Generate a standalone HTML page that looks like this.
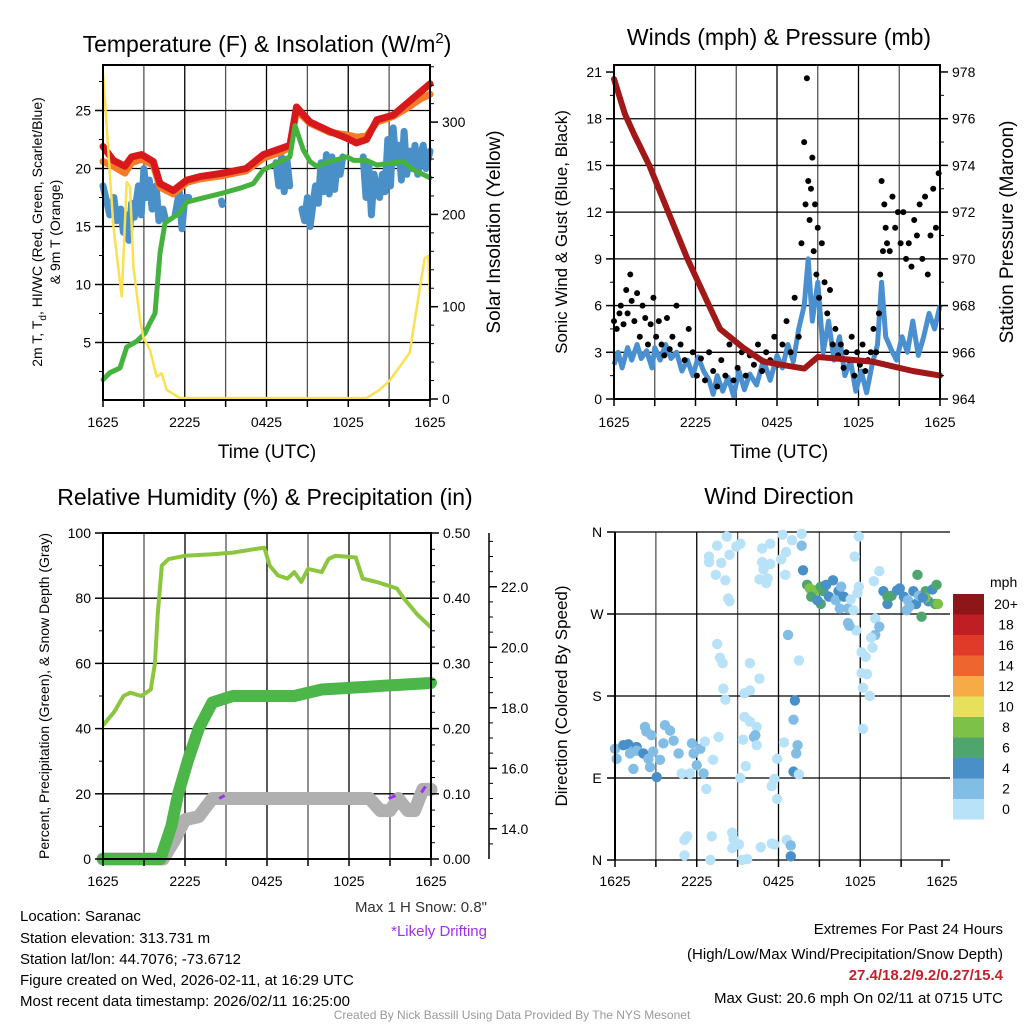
<!DOCTYPE html>
<html><head><meta charset="utf-8"><style>
body{margin:0;background:#fff;}
svg{display:block;font-family:"Liberation Sans",sans-serif;}
</style></head><body>
<svg id="s" width="1024" height="1024" viewBox="0 0 1024 1024" xmlns="http://www.w3.org/2000/svg">
<g id="g1"></g>
<g id="g2"></g>
<g id="g3"></g>
<g id="g4"></g>
<g id="txt">
<text x="267" y="52" font-size="23" text-anchor="middle">Temperature (F) &amp; Insolation (W/m<tspan dy="-9" font-size="15">2</tspan><tspan dy="9">)</tspan></text>
<text x="779" y="45" font-size="23" text-anchor="middle">Winds (mph) &amp; Pressure (mb)</text>
<text x="265" y="505" font-size="23" text-anchor="middle">Relative Humidity (%) &amp; Precipitation (in)</text>
<text x="779" y="504" font-size="23" text-anchor="middle">Wind Direction</text>
<text x="267" y="458" font-size="19" text-anchor="middle">Time (UTC)</text>
<text x="779" y="458" font-size="19" text-anchor="middle">Time (UTC)</text>
<text transform="translate(42,232) rotate(-90)" font-size="14" text-anchor="middle">2m T, T<tspan dy="4" font-size="10">d</tspan><tspan dy="-4">, HI/WC (Red, Green, Scarlet/Blue)</tspan></text>
<text transform="translate(60,232) rotate(-90)" font-size="14" text-anchor="middle">&amp; 9m T (Orange)</text>
<text transform="translate(500,232) rotate(-90)" font-size="19" text-anchor="middle">Solar Insolation (Yellow)</text>
<text transform="translate(567,232) rotate(-90)" font-size="17" text-anchor="middle">Sonic Wind &amp; Gust (Blue, Black)</text>
<text transform="translate(1013,232) rotate(-90)" font-size="19" text-anchor="middle">Station Pressure (Maroon)</text>
<text transform="translate(49,696) rotate(-90)" font-size="14" text-anchor="middle">Percent, Precipitation (Green), &amp; Snow Depth (Gray)</text>
<text transform="translate(567,696) rotate(-90)" font-size="17" text-anchor="middle">Direction (Colored By Speed)</text>
<text x="487" y="912" font-size="15" text-anchor="end" fill="#333">Max 1 H Snow: 0.8"</text>
<text x="487" y="936" font-size="15" text-anchor="end" fill="#a030f0">*Likely Drifting</text>
<g font-size="15">
<text x="20" y="921">Location: Saranac</text>
<text x="20" y="943">Station elevation: 313.731 m</text>
<text x="20" y="964">Station lat/lon: 44.7076; -73.6712</text>
<text x="20" y="985">Figure created on Wed, 2026-02-11, at 16:29 UTC</text>
<text x="20" y="1006">Most recent data timestamp: 2026/02/11 16:25:00</text>
</g>
<g font-size="15" text-anchor="end">
<text x="1003" y="934">Extremes For Past 24 Hours</text>
<text x="1003" y="959">(High/Low/Max Wind/Precipitation/Snow Depth)</text>
<text x="1003" y="980" fill="#c8202a" font-weight="bold">27.4/18.2/9.2/0.27/15.4</text>
<text x="1003" y="1003">Max Gust: 20.6 mph On 02/11 at 0715 UTC</text>
</g>
<text x="512" y="1019" font-size="12" fill="#999" text-anchor="middle">Created By Nick Bassill Using Data Provided By The NYS Mesonet</text>
</g>
</svg>
<script>
// ---------- Panel 1 data ----------
const xTickLabels = ["1625","2225","0425","1025","1625"];
const tempHours = [0,0.76,1.61,2.1,2.84,3.69,4.18,5.16,6.14,7.12,8.83,10.5,11.77,12.99,13.72,14.2,15.2,16.66,17.9,18.6,19.35,20.1,21.3,22.3,23.3,24];
const tempRed = [21.9,20.7,20.2,21.0,21.2,20.6,18.7,18.1,19.0,19.3,19.6,20.0,21.2,21.7,22.0,25.3,24.0,23.2,22.6,22.2,22.5,24.2,24.6,25.6,26.6,27.3];
const temp9m = [20.6,20.2,19.6,20.5,20.8,20.3,18.4,17.8,18.8,19.1,19.4,19.8,20.9,21.4,21.8,25.0,23.9,23.1,22.9,22.7,22.8,24.0,24.5,25.2,26.0,26.4];
const dewHours = [0,0.51,1.25,1.74,2.47,3.08,3.45,3.82,4.18,4.55,5.65,6.14,7.12,8.83,10.05,11.03,11.77,12.5,13.72,14.09,14.7,15.19,15.68,16.66,17.9,18.4,19.35,20.1,21.3,22.04,22.77,24];
const dewVals = [1.8,2.4,2.8,4.6,5.1,5.8,6.7,7.5,12.7,15.3,16.2,17.1,17.4,17.9,18.3,18.7,19.9,20.3,21.0,23.7,21.6,20.6,20.2,20.6,21.0,20.7,20.7,20.3,20.5,20.6,19.9,19.2];
const wcHours = [0,0.3,0.5,0.8,1.0,1.3,1.5,1.7,1.9,2.1,2.3,2.6,2.8,3.0,3.2,3.4,3.6,3.9,4.1,null,4.4,4.6,null,5.3,5.6,5.8,6.0,6.3,null,8.7,8.75,null,12.7,12.9,13.1,13.3,13.5,13.7,null,14.6,14.8,15.0,15.2,15.4,15.6,15.8,16.0,16.2,16.4,16.6,16.8,17.0,17.2,17.4,17.6,null,19.1,19.3,19.5,19.7,19.9,20.1,20.3,20.5,20.7,20.9,21.1,21.3,21.5,21.7,21.9,22.1,22.3,22.5,22.7,22.9,23.1,23.3,23.5,23.7,24];
const wcVals = [18.5,17,16,17.5,15.5,16.5,14.5,16,13.8,17,15.8,18.5,16,20,17.5,19,16.5,18.5,15.5,null,16.5,15.5,null,16,18,14.8,17.5,17.5,null,17.2,16.9,null,20.5,18.5,21.0,18.0,20.8,18.5,null,16.5,15.5,17.5,15.0,16.8,18.5,17.0,20.5,18.0,21.2,17.8,21.0,18.2,20.5,19.5,21.0,null,21.0,17.5,20.5,16.0,19.5,18.0,17.5,19.5,18.0,22.5,18.5,23.5,20.5,22.0,19.0,23.2,19.5,21.5,20.0,22.0,19.5,21.0,22.0,20.0,21.5];
const solHours = [0,0.27,0.76,1.37,1.74,1.98,2.23,2.72,2.96,3.45,3.94,4.31,4.67,5.65,19.35,20.3,21.05,22.5,23.27,23.6,23.87,24];
const solVals = [353,295,187,111,235,230,143,85,67,53,24,28,10,1,1,10,20,50,122,152,155,111];
// ---------- Panel 2 data ----------
const presHours = [0,0.8,1.5,2.6,4,5.4,7,7.8,9.5,11,13,14,15,17,19,20.5,22,24];
const presVals = [977.7,976.2,975.3,974,972,970,968,967,966.2,965.6,965.4,965.3,965.8,965.7,965.6,965.4,965.2,965.0];
const windHours = [0,0.3,0.6,1,1.3,1.7,2,2.4,2.8,3,3.4,3.8,4.2,4.6,5,5.4,5.8,6.2,6.6,7,7.3,7.6,8,8.4,8.8,9.2,9.6,10,10.5,11,11.5,12,12.4,12.8,13.2,13.6,14,14.3,14.6,15,15.4,15.8,16.2,16.6,17,17.4,17.8,18.2,18.6,19,19.4,19.7,20,20.4,20.8,21.2,21.6,22,22.4,22.8,23.2,23.6,24];
const windVals = [2.2,3,2,3.3,2.5,3.5,2.6,3.1,2,3.3,2.5,3.5,2.6,3,1.8,2.5,1.5,2.7,1.8,1.2,0.3,1.5,0.5,1.4,0.2,1.8,0.6,1.6,0.9,2.5,1.2,2.8,2,3.5,2.4,4.5,6,9,5,7.5,3,5,2.5,4,1.5,2.5,0.5,1.8,0.4,2.2,3.5,7.5,4,3.2,2.5,4,3,5,2.8,4,5.5,4.5,6];
const gustHours = [0,0.2,0.4,0.5,0.7,0.9,1.0,1.2,1.3,1.5,1.7,1.9,2.1,2.3,2.5,2.7,2.9,3.1,3.3,3.5,3.7,3.9,4.1,4.3,4.6,4.9,5.2,5.5,5.8,6.1,6.4,6.7,7.0,7.3,7.6,7.9,8.2,8.5,8.8,9.1,9.4,9.7,10.0,10.3,10.6,10.9,11.2,11.5,11.8,12.1,12.4,12.7,13.0,13.3,13.6,13.8,14.0,14.1,14.2,14.3,14.4,14.5,14.6,14.7,14.8,14.9,15.0,15.1,15.3,15.5,15.7,15.9,16.1,16.3,16.5,16.7,16.9,17.1,17.3,17.5,17.7,17.9,18.1,18.3,18.5,18.7,18.9,19.1,19.3,19.5,19.6,19.7,19.8,19.9,20.0,20.1,20.3,20.5,20.7,20.9,21.1,21.3,21.5,21.7,21.9,22.1,22.3,22.5,22.7,22.9,23.1,23.3,23.5,23.7,23.9];
const gustVals = [5,4.5,5.5,6,4.8,7,5.5,8,6.3,5,6.8,4,6,5.2,3.5,4.8,6.5,4,5,3.5,2.8,5.2,3.2,4,6,3.5,2.5,4.5,3,1.5,2.6,1.2,3,1.8,0.8,2.5,1.5,3.5,1.2,2,3,1.5,2.8,2.2,3.5,1.8,3,2.5,4,2.2,3.5,5,3,6.5,4,10,16.5,12.5,20.6,14,11.5,13.5,15.5,9.5,12.5,8,11,6.5,10,7.5,5.5,7,3.5,4.5,2.8,3.5,2,3,2.5,4,1.5,3,2.2,3.5,1.8,2.5,3,4.5,3,5.5,8,14,9.5,12.5,11,10,9.5,13,11,12,10,12,9,10,8.5,11.5,10.5,12.5,9,13,8,10.5,13.5,11,14.5];
// ---------- Panel 3 data ----------
const rhHours = [0,0.8,1.5,2,2.8,3.5,3.8,4.0,4.3,4.8,6,8,9.5,11,11.8,12.2,12.8,13.5,14,14.5,15,16,16.5,17,18.5,19,20,21.5,22,23,24];
const rhVals = [41,45,50,51,50,52,60,75,90,92,93,93.5,94,95,95.5,90,87,86,88,85,89,88,92,93,92.5,86,85,83,80,75,71];
const precipHours = [0,4.2,5,5.5,6.2,7,8,9.5,14,16,20,24];
const precipVals = [0,0,0.05,0.1,0.15,0.2,0.24,0.25,0.25,0.26,0.265,0.27];
const snowHours = [0,4.4,5.2,6,7,8,9,12,16,19.5,20.3,21,21.6,22.3,22.8,23.4,24];
const snowVals = [13,13,13.6,14.3,14.4,15.0,15.0,15.0,15.0,15.0,14.6,14.6,15.0,14.6,14.6,15.3,15.3];
const driftHours = [[8.5,8.9],[20.9,21.4],[23.3,23.6]];
const driftVals = [[15.0,15.1],[15.0,15.1],[15.2,15.4]];
// ---------- Panel 4 data ----------
const dirHours = [0.0,0.12,0.61,0.98,1.35,1.59,1.59,1.1,2.2,2.3,2.67,2.08,1.35,2.45,2.8,2.57,3.06,3.67,4.04,3.55,4.3,3.3,4.67,4.9,5.65,5.77,6.26,6.0,6.5,5.5,6.6,7.2,6.7,5.1,5.1,5.3,7.1,7.0,7.6,7.5,7.7,7.9,7.95,8.1,7.5,6.9,6.9,7.8,7.4,8.1,8.4,8.2,8.9,9.2,8.3,8.4,9.5,9.9,10.4,10.2,10.3,10.4,9.4,9.6,9.2,9.5,9.9,9.9,10.6,8.6,8.7,8.6,9.1,9.3,9.7,10.7,11.5,11.7,12.6,12.9,12.9,11.5,11.7,11.9,11.9,12.4,13.1,13.5,13.3,13.4,13.1,13.2,12.7,13.5,10.8,11.4,10.8,11.4,10.9,10.6,11.1,11.2,12.3,12.2,12.55,12.5,13.0,13.7,13.7,13.8,14.1,14.3,14.7,15.1,15.3,14.4,15.1,14.85,15.5,16.0,15.7,16.4,16.6,16.2,16.5,16.8,17.1,17.5,17.3,17.9,17.8,17.1,17.7,17.2,18.1,18.4,18.1,18.5,18.2,18.7,18.2,19.1,19.4,19.1,18.8,18.9,17.6,17.9,19.4,19.0,19.7,20.0,20.3,20.7,20.9,20.0,21.2,21.5,21.9,22.1,22.5,22.2,22.3,22.8,23.0,23.3,23.6,23.5,23.7,22.8,22.6,21.4,21.6];
const dirDeg = [122,111,126,127,120,124,120,117,146,141,137,117,100,111,119,102,91,148,142,128,131,110,117,95,128,117,122,104,95,95,130,110,78,22,5,26,26,0,135,237,222,216,188,176,345,333,327,326,313,307,335,355,344,347,287,284,157,152,146,135,137,126,132,103,90,183,186,216,199,30,23,13,17,0,1,14,18,17,22,16,4,81,89,67,111,129,97,94,117,126,154,175,247,219,342,347,327,325,319,308,304,309,357,330,338,313,351,358,345,318,302,298,296,300,295,289,281,285,302,307,289,295,300,285,276,289,276,274,286,300,293,260,252,257,228,223,205,204,189,180,144,265,256,247,244,233,333,355,317,306,295,281,290,296,298,289,289,285,295,281,267,313,290,295,284,297,302,281,281,288,288,274,278];
const dirSpeed = [3,3,5,5,3,5,3,3,3,3,3,5,3,3,3,3,5,3,3,3,3,3,3,1,3,3,3,3,3,1,1,1,1,1,1,1,1,1,1,1,1,1,1,1,1,1,1,1,1,1,1,1,1,1,1,1,1,1,1,3,3,1,1,1,1,1,1,1,1,1,1,1,1,1,1,1,1,1,1,3,5,1,1,1,1,1,5,1,3,3,3,5,3,1,1,1,1,1,1,1,1,1,1,1,1,1,1,1,3,5,7,9,9,7,7,7,7,5,5,5,5,5,3,3,3,5,3,1,1,1,1,3,1,3,1,1,1,1,1,1,1,1,3,3,1,1,1,1,1,1,5,5,6,5,5,7,5,3,5,5,6,6,3,7,5,5,6,7,9,9,5,3,3];
const speedLabels = ["0","2","4","6","8","10","12","14","16","18","20+"];
const speedColors = ["#b8e2f8","#82bde6","#4a90c8","#4ea66e","#7dc148","#e6e05a","#f6ab47","#ef6530","#df3a2a","#bf1e24","#8e1518"];

const NS="http://www.w3.org/2000/svg";
function mk(parent,tag,attrs){const e=document.createElementNS(NS,tag);for(const k in attrs)e.setAttribute(k,attrs[k]);parent.appendChild(e);return e;}
function linePath(hs,vs,fx,fy){let d="",pen=false;for(let i=0;i<hs.length;i++){if(hs[i]===null||vs[i]===null){pen=false;continue;}d+=(pen?"L":"M")+fx(hs[i]).toFixed(1)+","+fy(vs[i]).toFixed(1);pen=true;}return d;}

function frame(g,L,R,T,B,hLines,name){
  for(let i=1;i<8;i++){const x=L+(R-L)*i/8;const l=mk(g,"line",{x1:x,y1:T,x2:x,y2:B,stroke:i%2?"#555":"#000","stroke-width":1.3});
    }
  hLines.forEach(y=>{const l=mk(g,"line",{x1:L,y1:y,x2:R,y2:y,stroke:"#000","stroke-width":1.3});
    });
}
function border(g,L,R,T,B){const r=mk(g,"rect",{x:L,y:T,width:R-L,height:B-T,fill:"none",stroke:"#000","stroke-width":2});
  }
function xTicks(g,L,R,B,ly){
  for(let i=0;i<=8;i++){const x=L+(R-L)*i/8;mk(g,"line",{x1:x,y1:B,x2:x,y2:B+7,stroke:"#000","stroke-width":1.5});}
  xTickLabels.forEach((t,i)=>{const e=mk(g,"text",{x:L+(R-L)*i/4,y:ly,"font-size":14,"text-anchor":"middle"});e.textContent=t;
    });
}
function yTicks(g,x,vals,fy,side,labels,minor){
  const dir=side==="left"?-1:1;
  minor.forEach(v=>mk(g,"line",{x1:x,y1:fy(v),x2:x+dir*4,y2:fy(v),stroke:"#000","stroke-width":1}));
  vals.forEach((v,i)=>{mk(g,"line",{x1:x,y1:fy(v),x2:x+dir*8,y2:fy(v),stroke:"#000","stroke-width":1.5});
    const e=mk(g,"text",{x:x+dir*12,y:fy(v)+5,"font-size":14,"text-anchor":side==="left"?"end":"start"});e.textContent=labels[i];
    });
}

// ---------- Panel 1 ----------
(function(){
  const g=document.getElementById("g1");const L=103,R=430,T=65,B=400;
  const fx=h=>L+(R-L)*h/24, fy=v=>400.5-v*11.6, fs=v=>399-v*0.923;
  frame(g,L,R,T,B,[5,10,15,20,25].map(fy),"temp");
  const series=[[tempHours,temp9m,"#f47b27",7,"nine-meter-temp-line"],[tempHours,tempRed,"#d7191c",7,"two-meter-temp-line"],[dewHours,dewVals,"#45b23f",5,"dewpoint-line"]];
  const wc=mk(g,"path",{d:linePath(wcHours,wcVals,fx,fy),fill:"none",stroke:"#4a90c8","stroke-width":7,"stroke-linejoin":"round","stroke-linecap":"round"});
  
  series.forEach(s=>{const p=mk(g,"path",{d:linePath(s[0],s[1],fx,fy),fill:"none",stroke:s[2],"stroke-width":s[3],"stroke-linejoin":"round","stroke-linecap":"round"});
    });
  const sol=mk(g,"path",{d:linePath(solHours,solVals,fx,fs),fill:"none",stroke:"#fbe14f","stroke-width":2.5,"stroke-linejoin":"round"});
  
  border(g,L,R,T,B);xTicks(g,L,R,B,427);
  yTicks(g,L,[5,10,15,20,25],fy,"left",["5","10","15","20","25"],[2.5,7.5,12.5,17.5,22.5,27.5]);
  const sm=[];for(let v=20;v<=360;v+=20)sm.push(v);
  yTicks(g,R,[0,100,200,300],fs,"right",["0","100","200","300"],sm);
})();

// ---------- Panel 2 ----------
(function(){
  const g=document.getElementById("g2");const L=614,R=940,T=65,B=399;
  const fx=h=>L+(R-L)*h/24, fy=v=>399-v*15.57, fp=v=>399-(v-964)*23.36;
  frame(g,L,R,T,B,[3,6,9,12,15,18].map(fy),"wind");
  const w=mk(g,"path",{d:linePath(windHours,windVals,fx,fy),fill:"none",stroke:"#4a90d0","stroke-width":5,"stroke-linejoin":"round"});
  
  gustHours.forEach((h,i)=>{const c=mk(g,"circle",{cx:fx(h),cy:fy(gustVals[i]),r:3,fill:"#000"});
    });
  const p=mk(g,"path",{d:linePath(presHours,presVals,fx,fp),fill:"none",stroke:"#a01818","stroke-width":6,"stroke-linejoin":"round","stroke-linecap":"round"});
  
  border(g,L,R,T,B);xTicks(g,L,R,B,427);
  yTicks(g,L,[0,3,6,9,12,15,18,21],fy,"left",["0","3","6","9","12","15","18","21"],[1.5,4.5,7.5,10.5,13.5,16.5,19.5]);
  const pm=[];for(let v=965;v<=978;v+=1)pm.push(v);
  yTicks(g,R,[964,966,968,970,972,974,976,978],fp,"right",["964","966","968","970","972","974","976","978"],pm);
})();

// ---------- Panel 3 ----------
(function(){
  const g=document.getElementById("g3");const L=103,R=431,T=533,B=859;
  const fx=h=>L+(R-L)*h/24, fy=v=>859-v*3.26, fpr=v=>859-v*652, fsn=v=>859-(v-13)*30.25;
  frame(g,L,R,T,B,[20,40,60,80].map(fy),"rh");
  const sn=mk(g,"path",{d:linePath(snowHours,snowVals,fx,fsn),fill:"none",stroke:"#b0b0b0","stroke-width":13,"stroke-linejoin":"round","stroke-linecap":"round"});
  
  driftHours.forEach((hs,i)=>{const d=mk(g,"path",{d:linePath(hs,driftVals[i],fx,fsn),fill:"none",stroke:"#a030f0","stroke-width":3});
    });
  const pr=mk(g,"path",{d:linePath(precipHours,precipVals,fx,fpr),fill:"none",stroke:"#4cb748","stroke-width":12,"stroke-linejoin":"round","stroke-linecap":"round"});
  
  const rh=mk(g,"path",{d:linePath(rhHours,rhVals,fx,fy),fill:"none",stroke:"#8cc63f","stroke-width":4,"stroke-linejoin":"round"});
  
  border(g,L,R,T,B);xTicks(g,L,R,B,886);
  yTicks(g,L,[0,20,40,60,80,100],fy,"left",["0","20","40","60","80","100"],[10,30,50,70,90]);
  const pm=[];for(let v=0.025;v<0.5;v+=0.025)pm.push(v);
  yTicks(g,R,[0,0.1,0.2,0.3,0.4,0.5],fpr,"right",["0.00","0.10","0.20","0.30","0.40","0.50"],pm);
  mk(g,"line",{x1:489,y1:533,x2:489,y2:859,stroke:"#000","stroke-width":1.5});
  const sm=[];for(let v=13.5;v<24;v+=0.5)sm.push(v);
  yTicks(g,489,[14,16,18,20,22],fsn,"right",["14.0","16.0","18.0","20.0","22.0"],sm);
})();

// ---------- Panel 4 ----------
(function(){
  const g=document.getElementById("g4");const L=615,R=942,T=532,B=860;
  const fx=h=>L+(R-L)*h/24, fy=d=>860-d/360*328;
  frame(g,L,R,T,B,[90,180,270].map(fy),"dir");
  [0,360].forEach(d=>mk(g,"line",{x1:L,y1:fy(d),x2:R+8,y2:fy(d),stroke:"#000","stroke-width":1.3}));
  [90,180,270].forEach(d=>mk(g,"line",{x1:R,y1:fy(d),x2:R+8,y2:fy(d),stroke:"#000","stroke-width":1.3}));
  dirHours.forEach((h,i)=>{const bin=Math.min(10,Math.floor(dirSpeed[i]/2));
    const c=mk(g,"circle",{cx:fx(h),cy:fy(dirDeg[i]),r:5.2,fill:speedColors[bin]});
    });
  mk(g,"line",{x1:L,y1:T,x2:L,y2:B,stroke:"#000","stroke-width":2});
  xTicks(g,L,R,B,886);
  ["N","E","S","W","N"].forEach((t,i)=>{mk(g,"line",{x1:L-8,y1:fy(i*90),x2:L,y2:fy(i*90),stroke:"#000","stroke-width":1.5});
    const e=mk(g,"text",{x:L-18,y:fy(i*90)+5,"font-size":14,"text-anchor":"middle"});e.textContent=t;
    });
  const cb=mk(g,"g",{});
  const t=mk(cb,"text",{x:990,y:587,"font-size":14});t.textContent="mph";
  speedColors.forEach((c,i)=>{const y=799-i*20.5;mk(cb,"rect",{x:953,y:y,width:31,height:20.5,fill:c});
    const e=mk(cb,"text",{x:1006,y:y+15,"font-size":14,"text-anchor":"middle"});e.textContent=speedLabels[i];
    });
})();
</script>
</body></html>
